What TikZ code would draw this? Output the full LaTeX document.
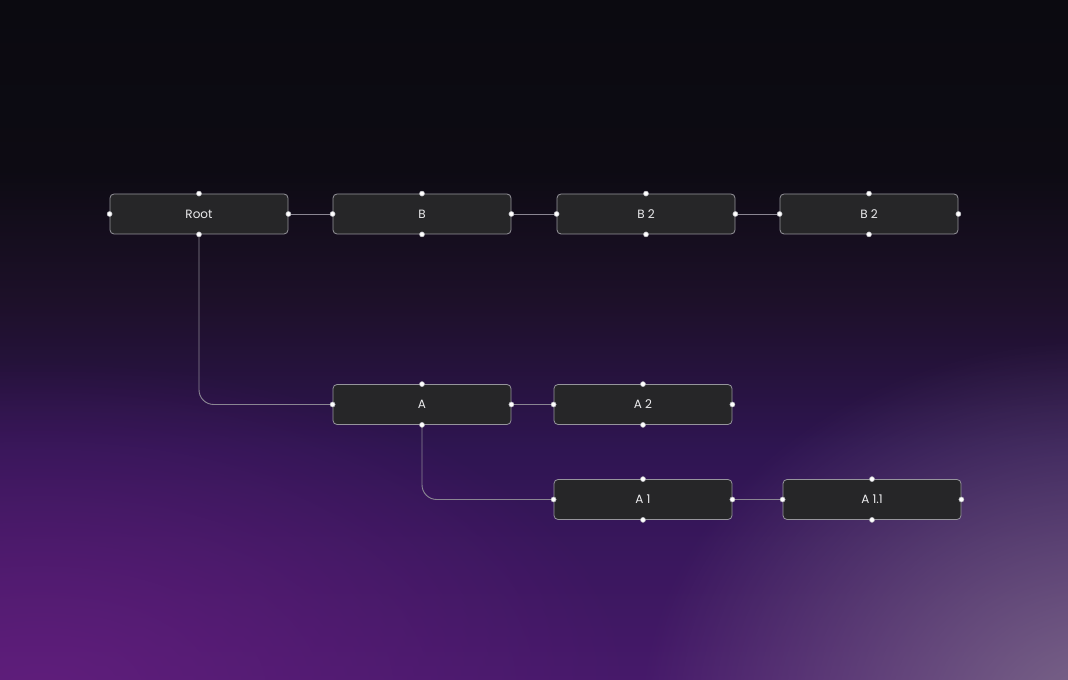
\documentclass[tikz,border=0pt]{standalone}
\usepackage{fontspec}
\setmainfont{Poppins}
\usetikzlibrary{fadings}

\definecolor{bgTop}{HTML}{0B0A10}
\definecolor{bgUpper}{HTML}{0D0B13}
\definecolor{bgMid}{HTML}{1D1029}
\definecolor{bgLow}{HTML}{2F1552}
\definecolor{bgBottom}{HTML}{46196A}
\definecolor{glowLeft}{HTML}{661F80}
\definecolor{glowRight}{HTML}{85768F}
\definecolor{blockFill}{HTML}{262628}
\definecolor{blockLine}{HTML}{96959C}
\definecolor{blockText}{HTML}{ECECEE}
\definecolor{linkLine}{HTML}{8A8692}
\definecolor{portLine}{HTML}{B8B8BE}

\pgfdeclareverticalshading{bgfade}{100bp}{color(0bp)=(bgBottom); color(25bp)=(bgBottom); color(41.9bp)=(bgLow); color(52.9bp)=(bgMid); color(62.5bp)=(bgUpper); color(75bp)=(bgTop); color(100bp)=(bgTop)}
\tikzfading[name=glowfade, inner color=transparent!0, outer color=transparent!100]

\tikzset{every picture/.style={line width=0.75pt}}
\tikzset{
	block/.style={draw=blockLine, fill=blockFill, line width=0.6pt, rounded corners=3pt, minimum width=133.5pt, minimum height=30pt, inner sep=0pt, text=blockText, font=\fontsize{9}{11}\selectfont},
	link/.style={draw=linkLine, line width=0.7pt, rounded corners=11pt},
	port/.style={fill=white, draw=portLine, line width=0.4pt}}

\begin{document}
\begin{tikzpicture}[x=0.75pt,y=0.75pt,yscale=-1,xscale=1]
	\useasboundingbox (0,0) rectangle (1068,680);

	%Shape: Background
	\begin{scope}
	\clip (0,0) rectangle (1068,680);
	\fill[shading=bgfade] (0,0) rectangle (1068,680);
	\fill[glowLeft, path fading=glowfade, fill opacity=0.8] (40,690) ellipse (600 and 330);
	\fill[glowRight, path fading=glowfade, fill opacity=0.85] (1100,720) ellipse (460 and 380);
	\end{scope}

	% Text Node
	\node[block] (root) at (199,214) {Root};
	% Text Node
	\node[block] (b) at (422,214) {B};
	% Text Node
	\node[block] (b2) at (646,214) {B 2};
	% Text Node
	\node[block] (b3) at (869,214) {B 2};
	% Text Node
	\node[block] (a) at (422,404.5) {A};
	% Text Node
	\node[block] (a2) at (643,404.5) {A 2};
	% Text Node
	\node[block] (a1) at (643,499.5) {A 1};
	% Text Node
	\node[block] (a11) at (872,499.5) {A 1.1};

	%Straight Lines
	\draw[link] (root.east) -- (b.west);
	\draw[link] (b.east) -- (b2.west);
	\draw[link] (b2.east) -- (b3.west);
	\draw[link] (a.east) -- (a2.west);
	\draw[link] (a1.east) -- (a11.west);
	%Elbow Lines
	\draw[link] (root.south) |- (a.west);
	\draw[link] (a.south) |- (a1.west);

	%Shape: Ports
	\foreach \n in {root,b,b2,b3,a,a2,a1,a11}
		\foreach \s in {north,south,east,west}
			\fill[port] (\n.\s) circle (2.5);

\end{tikzpicture}
\end{document}
